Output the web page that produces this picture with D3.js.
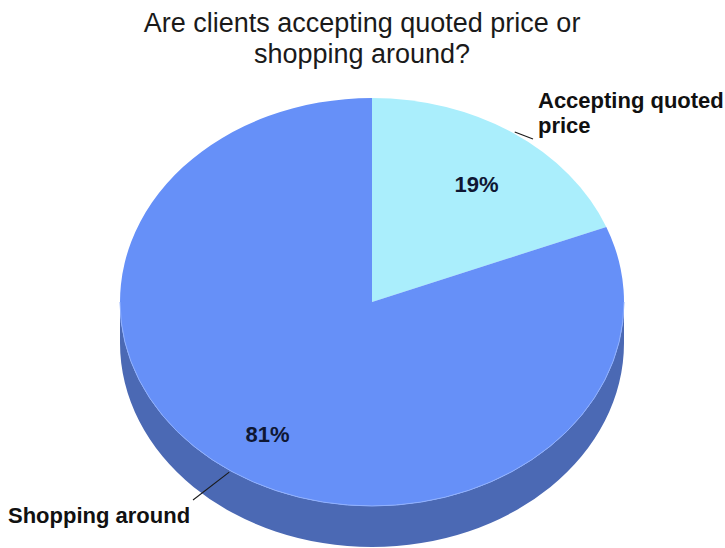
<!DOCTYPE html>
<html>
<head>
<meta charset="utf-8">
<script src="https://cdn.jsdelivr.net/npm/d3@7"></script>
<style>
  html, body { margin: 0; padding: 0; background: #fff; }
  svg { display: block; }
  text { font-family: "Liberation Sans", Arial, sans-serif; }
</style>
</head>
<body>
<svg id="chart" width="725" height="548"></svg>
<script>
// Share of clients, in percent
const categories = ["Accepting quoted price", "Shopping around"];
const shares = [19, 81];
const titleLines = ["Are clients accepting quoted price or", "shopping around?"];
const labelLines = [["Accepting quoted", "price"], ["Shopping around"]];

const topColors = ["#aaeefc", "#6690f8"];
const sideColors = ["#7fb8c8", "#4b69b4"];

const W = 725, H = 548;
const cx = 372, cy = 302;
const rx = 252, ry = 204;      // ellipse of the top face
const k = ry / rx;             // vertical squash
const depth = 41;              // thickness of the disc

const svg = d3.select("#chart");

// Title
svg.append("text")
  .attr("x", 362).attr("y", 32)
  .attr("text-anchor", "middle")
  .attr("font-size", 27)
  .attr("fill", "#1a1a1a")
  .selectAll("tspan")
  .data(titleLines)
  .join("tspan")
  .attr("x", 362)
  .attr("dy", (d, i) => i === 0 ? 0 : 30.5)
  .text(d => d);

const data = categories.map((c, i) => ({ name: c, value: shares[i], i }));
const pie = d3.pie().value(d => d.value).sort(null);
const arcs = pie(data);

const arc = d3.arc().innerRadius(0).outerRadius(rx);

// Everything in the disc is drawn in circle space and squashed vertically
const disc = svg.append("g")
  .attr("transform", `translate(${cx},${cy}) scale(1,${k})`);

// Side wall: only the front half (angles pi/2 .. 3pi/2) is visible
const dy = depth / k;
function sidePath(a0, a1) {
  const s = Math.max(a0, Math.PI / 2), e = Math.min(a1, 3 * Math.PI / 2);
  if (e <= s) return null;
  const p = d3.path();
  const t0 = s - Math.PI / 2, t1 = e - Math.PI / 2;
  p.moveTo(rx * Math.cos(t0), rx * Math.sin(t0));
  p.arc(0, 0, rx, t0, t1, false);
  p.lineTo(rx * Math.cos(t1), rx * Math.sin(t1) + dy);
  p.arc(0, dy, rx, t1, t0, true);
  p.closePath();
  return p.toString();
}

disc.selectAll("path.side")
  .data(arcs.filter(a => sidePath(a.startAngle, a.endAngle)))
  .join("path")
  .attr("class", "side")
  .attr("d", a => sidePath(a.startAngle, a.endAngle))
  .attr("fill", a => sideColors[a.data.i]);

// Top face
disc.selectAll("path.top")
  .data(arcs)
  .join("path")
  .attr("class", "top")
  .attr("d", arc)
  .attr("fill", a => topColors[a.data.i]);

// Thin light rim where the top face meets the wall
const rim = d3.path();
rim.moveTo(rx, 0);
rim.arc(0, 0, rx, 0, Math.PI, false);
disc.append("path")
  .attr("d", rim.toString())
  .attr("fill", "none")
  .attr("stroke", "#8fb0ff")
  .attr("stroke-width", 1)
  .attr("vector-effect", "non-scaling-stroke");

// Point on the top ellipse at a pie angle and radius
function ellipsePoint(a, r) {
  return [cx + r * Math.sin(a), cy - r * k * Math.cos(a)];
}

// Percent labels inside the slices
const pctR = 186;
svg.selectAll("text.pct")
  .data(arcs)
  .join("text")
  .attr("class", "pct")
  .attr("x", a => ellipsePoint((a.startAngle + a.endAngle) / 2, pctR)[0])
  .attr("y", a => ellipsePoint((a.startAngle + a.endAngle) / 2, pctR)[1] + 15)
  .attr("text-anchor", "middle")
  .attr("font-size", 22)
  .attr("font-weight", "bold")
  .attr("fill", "#0f1733")
  .text(a => a.value + "%");

// Category labels with short leader lines
const labelPos = [
  { x: 538, y: 108, lead: [533, 139] },
  { x: 8, y: 523, lead: [193, 500] }
];

arcs.forEach(a => {
  const mid = (a.startAngle + a.endAngle) / 2;
  const start = ellipsePoint(mid, rx + 2);
  const pos = labelPos[a.data.i];
  svg.append("line")
    .attr("x1", start[0]).attr("y1", start[1])
    .attr("x2", pos.lead[0]).attr("y2", pos.lead[1])
    .attr("stroke", "#1a1a1a")
    .attr("stroke-width", 1.1);
  svg.append("text")
    .attr("x", pos.x).attr("y", pos.y)
    .attr("font-size", 22)
    .attr("font-weight", "bold")
    .attr("fill", "#111")
    .selectAll("tspan")
    .data(labelLines[a.data.i])
    .join("tspan")
    .attr("x", pos.x)
    .attr("dy", (d, i) => i === 0 ? 0 : 25)
    .text(d => d);
});
</script>
</body>
</html>
